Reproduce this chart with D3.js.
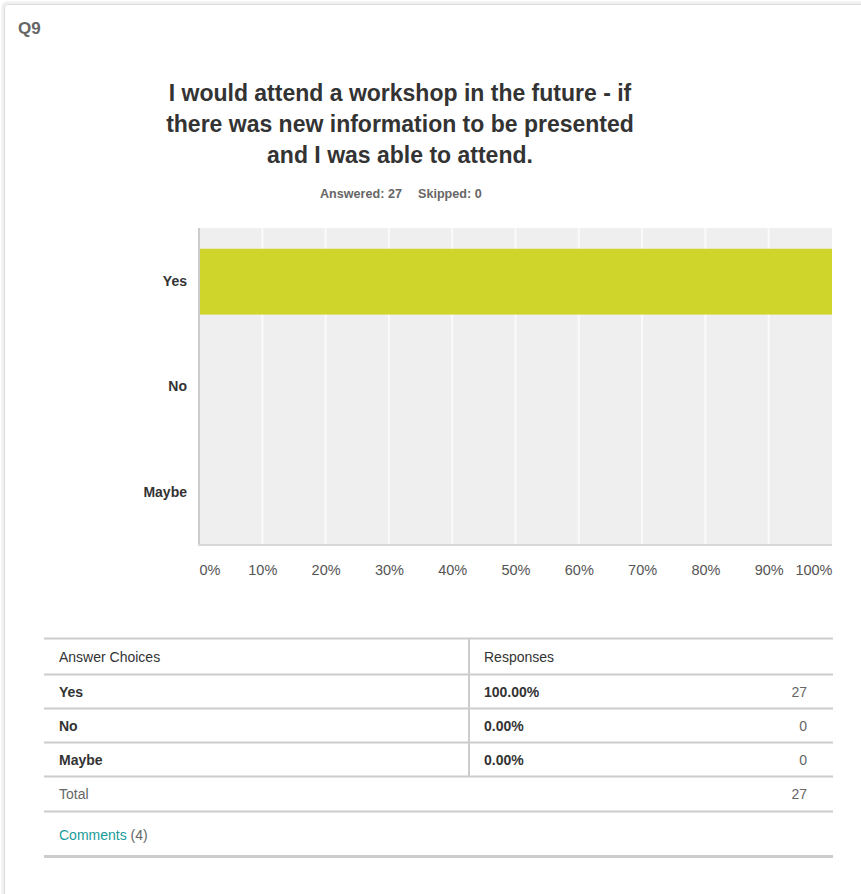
<!DOCTYPE html>
<html>
<head>
<meta charset="utf-8">
<script src="https://cdn.jsdelivr.net/npm/d3@7"></script>
<style>
  html, body { margin: 0; padding: 0; background: #fff; }
  svg { display: block; font-family: "Liberation Sans", Arial, Helvetica, sans-serif; }
</style>
</head>
<body>
<svg id="chart" width="861" height="894"></svg>
<script>
// ---- data ----
const questionId = "Q9";
const titleLines = ["I would attend a workshop in the future - if", "there was new information to be presented", "and I was able to attend."];
const answered = 27;
const skipped = 0;
const categories = ["Yes", "No", "Maybe"];
const percents = [1.0, 0.0, 0.0];
const counts = [27, 0, 0];
const total = 27;
const commentsCount = 4;
const tickValues = [0, 0.1, 0.2, 0.3, 0.4, 0.5, 0.6, 0.7, 0.8, 0.9, 1.0];

// ---- layout ----
const svg = d3.select("#chart");
const plot = { left: 199, right: 832, top: 228, bottom: 545 };
const barColor = "#cfd52a";

// card
svg.append("rect").attr("x", 3).attr("y", 3).attr("width", 880).attr("height", 920)
  .attr("rx", 4).attr("fill", "none").attr("stroke", "#f0f0f0").attr("stroke-width", 3);
svg.append("rect").attr("x", 4.5).attr("y", 4.5).attr("width", 880).attr("height", 920)
  .attr("rx", 3).attr("fill", "#fff").attr("stroke", "#dcdcdc").attr("stroke-width", 1);

svg.append("text").attr("x", 18).attr("y", 34).text(questionId)
  .attr("font-size", 17).attr("font-weight", "bold").attr("fill", "#666");

// title
const title = svg.append("text").attr("text-anchor", "middle")
  .attr("font-size", 23).attr("font-weight", "bold").attr("fill", "#333");
titleLines.forEach((l, i) => {
  title.append("tspan").attr("x", 400).attr("y", 101 + i * 30.8).text(l);
});

svg.append("text").attr("x", 320).attr("y", 198).text("Answered: " + answered)
  .attr("font-size", 12.6).attr("font-weight", "bold").attr("fill", "#666");
svg.append("text").attr("x", 418).attr("y", 198).text("Skipped: " + skipped)
  .attr("font-size", 12.6).attr("font-weight", "bold").attr("fill", "#666");

// scales
const x = d3.scaleLinear().domain([0, 1]).range([plot.left, plot.right]);
const y = d3.scaleBand().domain(categories).range([plot.top + 1, plot.bottom])
  .paddingInner(0.375).paddingOuter(0.1875);

// background
svg.append("rect").attr("x", plot.left).attr("y", plot.top)
  .attr("width", plot.right - plot.left).attr("height", plot.bottom - plot.top)
  .attr("fill", "#efefef");

// grid lines
svg.append("g").selectAll("line").data(tickValues.slice(1, -1)).join("line")
  .attr("x1", d => x(d)).attr("x2", d => x(d))
  .attr("y1", plot.top).attr("y2", plot.bottom)
  .attr("stroke", "#fafafa").attr("stroke-width", 2);

// bars
svg.append("g").selectAll("rect").data(categories).join("rect")
  .attr("x", x(0))
  .attr("y", d => y(d))
  .attr("width", (d, i) => x(percents[i]) - x(0))
  .attr("height", y.bandwidth())
  .attr("fill", barColor);

// axis lines
svg.append("line").attr("x1", plot.left).attr("x2", plot.left)
  .attr("y1", plot.top).attr("y2", plot.bottom + 1)
  .attr("stroke", "#cccccc").attr("stroke-width", 2);
svg.append("line").attr("x1", plot.left - 1).attr("x2", plot.right)
  .attr("y1", plot.bottom).attr("y2", plot.bottom)
  .attr("stroke", "#d8d8d8").attr("stroke-width", 2);

// x axis
const xAxis = svg.append("g").attr("transform", `translate(0,${plot.bottom})`)
  .call(d3.axisBottom(x).tickValues(tickValues).tickFormat(d3.format(".0%")).tickSize(0).tickPadding(20));
xAxis.select(".domain").remove();
xAxis.selectAll("text").attr("font-size", 14.5).attr("fill", "#555")
  .attr("font-family", "'Liberation Sans', Arial, sans-serif")
  .attr("text-anchor", (d, i) => i === 0 ? "start" : (i === tickValues.length - 1 ? "end" : "middle"));

// y axis
const yAxis = svg.append("g").attr("transform", `translate(${plot.left},0)`)
  .call(d3.axisLeft(y).tickSize(0).tickPadding(12));
yAxis.select(".domain").remove();
yAxis.selectAll("text").attr("font-size", 14).attr("font-weight", "bold").attr("fill", "#333")
  .attr("font-family", "'Liberation Sans', Arial, sans-serif");

// ---- table ----
const tbl = { left: 44, right: 833, mid: 469, top: 638.5, header: 36, row: 34 };
const g = svg.append("g");
const line = (x1, y1, x2, y2, w, c) => g.append("line").attr("x1", x1).attr("y1", y1)
  .attr("x2", x2).attr("y2", y2).attr("stroke", c || "#cccccc").attr("stroke-width", w || 2);
const txt = (xx, yy, s, opts = {}) => g.append("text").attr("x", xx).attr("y", yy).text(s)
  .attr("font-size", 14).attr("fill", opts.fill || "#333")
  .attr("font-weight", opts.bold ? "bold" : "normal")
  .attr("text-anchor", opts.anchor || "start");

line(tbl.left, tbl.top, tbl.right, tbl.top);
const headerBottom = tbl.top + tbl.header;
line(tbl.left, headerBottom, tbl.right, headerBottom);
txt(59, tbl.top + 23, "Answer Choices");
txt(484, tbl.top + 23, "Responses");

categories.forEach((c, i) => {
  const top = headerBottom + i * tbl.row;
  line(tbl.left, top + tbl.row, tbl.right, top + tbl.row);
  txt(59, top + 22.5, c, { bold: true });
  txt(484, top + 22.5, d3.format(".2%")(percents[i]), { bold: true });
  txt(807, top + 22.5, counts[i], { fill: "#666", anchor: "end" });
});
const rowsBottom = headerBottom + categories.length * tbl.row;
line(tbl.mid, tbl.top, tbl.mid, rowsBottom);

const totalBottom = rowsBottom + 35;
line(tbl.left, totalBottom, tbl.right, totalBottom);
txt(59, rowsBottom + 22, "Total", { fill: "#666" });
txt(807, rowsBottom + 22, total, { fill: "#666", anchor: "end" });

const commentsBottom = totalBottom + 45;
line(tbl.left, commentsBottom, tbl.right, commentsBottom, 3);
const ct = g.append("text").attr("x", 59).attr("y", totalBottom + 28).attr("font-size", 14);
ct.append("tspan").attr("fill", "#1a9b9a").text("Comments");
ct.append("tspan").attr("fill", "#666").text(" (" + commentsCount + ")");
</script>
</body>
</html>
